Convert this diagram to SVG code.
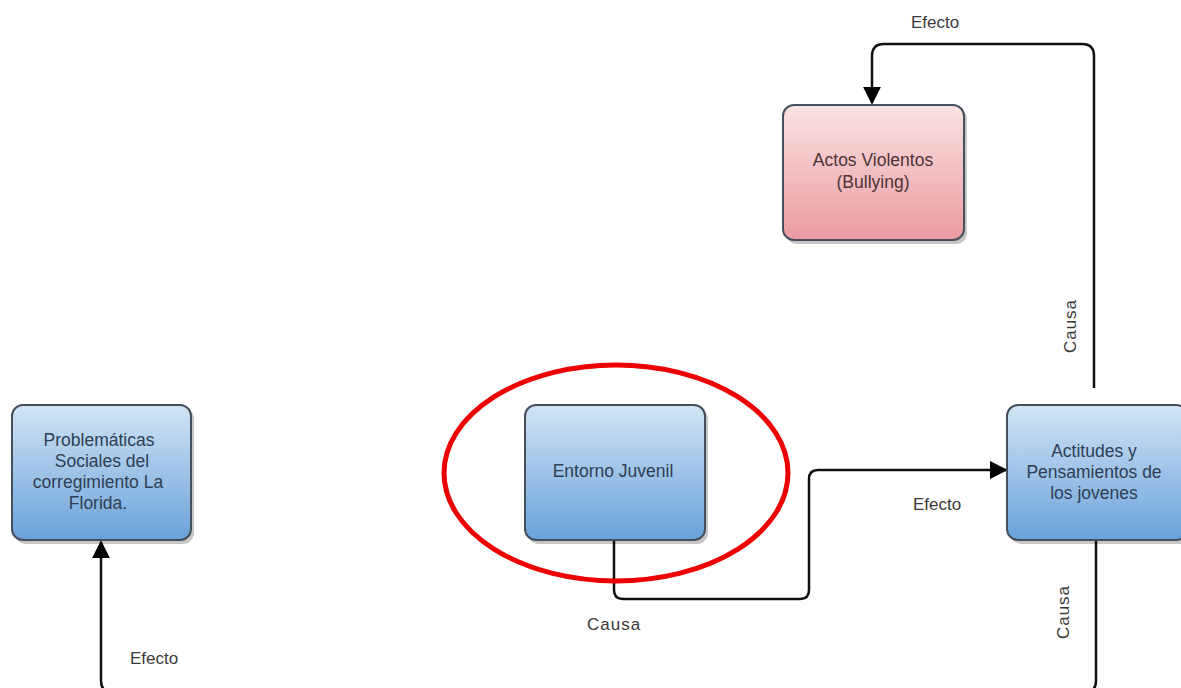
<svg xmlns="http://www.w3.org/2000/svg" width="1181" height="688" viewBox="0 0 1181 688">
<style>
.lbl{font-family:"Liberation Sans",Arial,sans-serif;font-size:17px;fill:#3a3a3a}
.nt{font-family:"Liberation Sans",Arial,sans-serif;font-size:17.5px;fill:#2e3e55;text-anchor:middle}
.ntp{font-family:"Liberation Sans",Arial,sans-serif;font-size:17.5px;fill:#4e3434;text-anchor:middle}
.box{stroke:#45505c;stroke-width:2}
.sh{fill:#000;opacity:0.22}
.con{fill:none;stroke:#111;stroke-width:2.5;stroke-linejoin:round}
</style>
<defs>
<linearGradient id="gb" x1="0" y1="0" x2="0" y2="1">
<stop offset="0" stop-color="#d3e4f5"/>
<stop offset="1" stop-color="#6aa2da"/>
</linearGradient>
<linearGradient id="gp" x1="0" y1="0" x2="0" y2="1">
<stop offset="0" stop-color="#fae3e3"/>
<stop offset="1" stop-color="#eb9aa1"/>
</linearGradient>
<marker id="ah2" viewBox="0 0 10 10" refX="9" refY="5" markerWidth="18" markerHeight="18" markerUnits="userSpaceOnUse" orient="auto">
<path d="M0,0 L10,5 L0,10 z" fill="#000"/>
</marker>
</defs>
<rect width="1181" height="688" fill="#fff"/>
<g id="connectors">
<path class="con" d="M1096,540 L1096,681 Q1096,692 1085,692 L112,692 Q101,692 101,681 L101,542" marker-end="url(#ah2)"/>
<path class="con" d="M614,540 L614,590 Q614,599 623,599 L800,599 Q809,599 809,590 L809,479 Q809,470 818,470 L1006,470" marker-end="url(#ah2)"/>
<path class="con" d="M1094,388 L1094,56 Q1094,44 1082,44 L884,44 Q872,44 872,56 L872,103" marker-end="url(#ah2)"/>
<text class="lbl" x="130" y="664">Efecto</text>
<text class="lbl" x="587" y="630" letter-spacing="1">Causa</text>
<text class="lbl" x="913" y="510">Efecto</text>
<text class="lbl" x="911" y="28">Efecto</text>
<text class="lbl" transform="translate(1076,326) rotate(-90)" text-anchor="middle" letter-spacing="1">Causa</text>
<text class="lbl" transform="translate(1069,612) rotate(-90)" text-anchor="middle" letter-spacing="1">Causa</text>
</g>
<g id="n1">
<rect class="sh" x="15" y="408" width="179" height="136" rx="11"/>
<rect class="box" x="12" y="405" width="179" height="135" rx="11" fill="url(#gb)"/>
<text class="nt" x="99" y="446">Problemáticas</text>
<text class="nt" x="102" y="467">Sociales del</text>
<text class="nt" x="98" y="488">corregimiento La</text>
<text class="nt" x="98" y="509">Florida.</text>
</g>
<g id="n2">
<rect class="sh" x="528" y="408" width="180" height="136" rx="11"/>
<rect class="box" x="525" y="405" width="180" height="135" rx="11" fill="url(#gb)"/>
<text class="nt" x="613" y="477">Entorno Juvenil</text>
</g>
<g id="n3">
<rect class="sh" x="1010" y="408" width="180" height="136" rx="11"/>
<rect class="box" x="1007" y="405" width="180" height="135" rx="11" fill="url(#gb)"/>
<text class="nt" x="1094" y="457">Actitudes y</text>
<text class="nt" x="1094" y="478">Pensamientos de</text>
<text class="nt" x="1094" y="499">los jovenes</text>
</g>
<g id="n4">
<rect class="sh" x="786" y="108" width="181" height="136" rx="11"/>
<rect class="box" x="783" y="105" width="181" height="135" rx="11" fill="url(#gp)"/>
<text class="ntp" x="873" y="166">Actos Violentos</text>
<text class="ntp" x="873" y="188">(Bullying)</text>
</g>
<g id="highlight">
<ellipse cx="616" cy="473" rx="172" ry="108" fill="none" stroke="#ee0000" stroke-width="5"/>
</g>
</svg>
